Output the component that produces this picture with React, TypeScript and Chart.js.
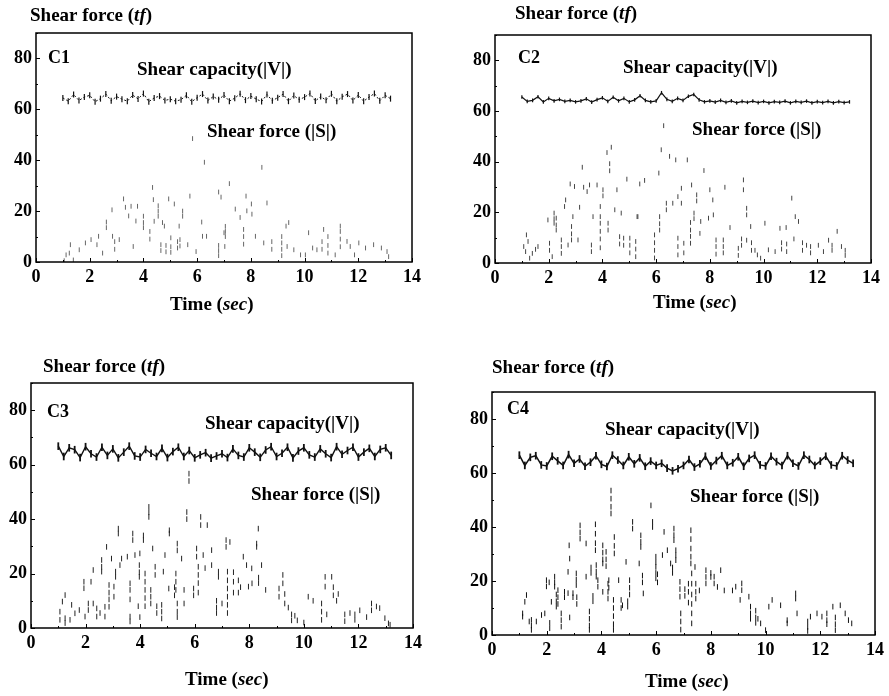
import React, { useEffect, useRef } from "react";
import { Chart, registerables } from "chart.js";

Chart.register(...registerables);

// ---------- data ----------
const xTicks = [0, 2, 4, 6, 8, 10, 12, 14];
const yTicks = [0, 20, 40, 60, 80];
const panelNames = ["C1", "C2", "C3", "C4"];

const capTime = [
  1.0, 1.2, 1.4, 1.6, 1.8, 2.0, 2.2, 2.4, 2.6, 2.8,
  3.0, 3.2, 3.4, 3.6, 3.8, 4.0, 4.2, 4.4, 4.6, 4.8,
  5.0, 5.2, 5.4, 5.6, 5.8, 6.0, 6.2, 6.4, 6.6, 6.8,
  7.0, 7.2, 7.4, 7.6, 7.8, 8.0, 8.2, 8.4, 8.6, 8.8,
  9.0, 9.2, 9.4, 9.6, 9.8, 10.0, 10.2, 10.4, 10.6, 10.8,
  11.0, 11.2, 11.4, 11.6, 11.8, 12.0, 12.2, 12.4, 12.6, 12.8,
  13.0, 13.2,
];

const c1Capacity = [
  64.5, 63.2, 65.8, 63.5, 64.8, 65.5, 63.0, 64.2, 66.0, 63.4,
  65.0, 64.0, 63.2, 65.6, 64.1, 66.2, 63.0, 64.5, 65.2, 63.5,
  64.0, 63.2, 63.8, 65.5, 63.0, 64.6, 66.0, 63.5, 65.0, 63.8,
  65.6, 63.2, 64.4, 66.1, 63.6, 65.2, 64.0, 63.1, 65.8, 63.4,
  64.6, 66.0, 63.2, 65.4, 63.8, 64.8, 66.2, 63.3, 65.0, 63.6,
  66.1, 63.2, 64.9, 66.0, 63.5, 65.6, 63.2, 64.8, 66.2, 63.4,
  65.5, 64.2,
];
const c2Capacity = [
  65.5, 63.8, 64.2, 65.6, 63.6, 65.0, 64.0, 64.6, 63.8, 64.2,
  63.6, 64.0, 64.8, 63.5, 64.5, 65.2, 63.8, 65.4, 64.0, 65.0,
  63.6, 64.4, 66.0, 64.2, 63.6, 64.0, 67.2, 64.6, 63.8, 65.0,
  64.2, 65.8, 66.5, 64.4, 63.6, 64.0, 63.5, 64.2, 63.4, 64.0,
  63.2, 63.8, 63.4, 63.9, 63.3, 63.8, 63.2, 63.7, 63.4, 63.9,
  63.2, 63.8, 63.4, 63.9, 63.2, 63.7, 63.3, 63.8, 63.2, 63.7,
  63.3, 63.6,
];
const c3Capacity = [
  66.8, 63.0, 66.2, 65.5, 62.6, 66.6, 64.0, 62.8, 66.4, 63.4,
  65.8, 62.5, 64.6, 66.8, 63.2, 62.8, 65.6, 64.2, 63.0, 66.0,
  62.6, 64.8, 66.4, 63.0, 65.2, 62.5, 63.6, 64.4, 62.4, 63.2,
  64.0, 62.6, 65.8, 63.4, 62.8, 66.2, 64.6, 62.7, 65.4, 66.6,
  63.0, 64.2, 66.4, 62.5, 65.0, 66.2, 63.6, 62.8, 65.8, 64.0,
  62.6, 66.6, 63.8, 65.2, 66.4, 62.8, 64.6, 66.0, 63.0, 65.6,
  66.2, 63.4,
];
const c4Capacity = [
  66.6, 62.8, 65.8, 66.4, 63.0, 62.6, 66.2, 64.5, 62.8, 66.8,
  63.6, 65.2, 62.5, 64.0, 66.4, 63.2, 62.4, 66.6, 64.8, 62.8,
  66.0, 63.4, 65.6, 62.5, 64.4, 62.8, 63.6, 61.8, 60.8, 61.6,
  62.8, 65.0, 62.2, 63.4, 66.2, 62.6, 64.6, 66.4, 62.8, 63.8,
  66.0, 62.5, 65.4, 66.6, 63.0, 62.6, 66.2, 64.2, 62.8, 66.4,
  63.6, 62.6, 66.6, 65.0, 62.8, 64.4, 66.2, 63.0, 62.6, 66.4,
  64.8, 63.6,
];

// [time (sec), |S| (tf)]
const c1Shear = [
  [1.05, 0.5], [1.12, 2.8], [1.24, 3.5], [1.28, 6.8], [1.39, 0.8], [1.61, 4.8], [1.84, 7.5], [2.05, 8.8],
  [2.27, 6.8], [2.33, 10.1], [2.48, 3.5], [2.62, 15.7], [2.62, 13.5], [2.83, 20.5], [2.85, 10.1], [2.93, 8.0],
  [2.93, 5.0], [3.1, 8.8], [3.26, 24.8], [3.33, 21.5], [3.45, 18.1], [3.54, 21.9], [3.62, 6.1], [3.72, 16.1],
  [3.78, 21.9], [4.0, 18.0], [4.0, 15.5], [4.0, 13.5], [4.24, 12.0], [4.24, 9.0], [4.34, 29.3], [4.37, 24.5],
  [4.4, 16.0], [4.55, 22.1], [4.55, 20.0], [4.55, 18.0], [4.65, 6.8], [4.65, 4.5], [4.71, 15.5], [4.78, 14.1],
  [4.84, 6.5], [4.84, 4.0], [4.94, 24.8], [5.02, 9.5], [5.02, 6.0], [5.02, 3.8], [5.15, 22.8], [5.27, 8.0],
  [5.27, 5.5], [5.33, 14.1], [5.36, 8.8], [5.36, 6.3], [5.46, 20.0], [5.46, 18.0], [5.65, 6.8], [5.73, 25.9],
  [5.83, 48.5], [5.96, 4.1], [6.17, 15.7], [6.2, 10.1], [6.27, 39.2], [6.35, 10.1], [6.8, 27.5], [6.8, 6.5],
  [6.8, 4.5], [6.8, 2.5], [6.89, 25.5], [7.0, 11.5], [7.03, 6.1], [7.05, 14.0], [7.05, 12.0], [7.05, 10.0],
  [7.2, 30.8], [7.42, 20.8], [7.6, 17.5], [7.73, 12.8], [7.73, 10.0], [7.73, 7.0], [7.82, 25.9], [7.85, 20.1],
  [8.02, 22.8], [8.04, 18.8], [8.17, 10.1], [8.41, 37.2], [8.48, 7.5], [8.6, 23.2], [8.78, 8.0], [8.78, 5.0],
  [9.15, 10.0], [9.15, 7.5], [9.15, 5.0], [9.15, 2.5], [9.31, 14.1], [9.35, 6.1], [9.41, 15.5], [9.6, 4.8],
  [9.85, 2.8], [10.03, 2.8], [10.15, 11.5], [10.3, 5.5], [10.46, 4.8], [10.65, 8.0], [10.65, 5.0], [10.71, 12.8],
  [10.87, 10.0], [10.87, 6.5], [10.87, 3.5], [11.14, 2.8], [11.33, 14.1], [11.33, 12.0], [11.33, 9.0], [11.33, 6.0],
  [11.58, 8.1], [11.7, 6.1], [11.86, 2.8], [12.02, 7.5], [12.27, 5.5], [12.57, 6.8], [12.86, 5.5], [13.07, 4.1],
  [13.13, 2.1],
];

const c2Shear = [
  [1.07, 6.5], [1.14, 4.5], [1.17, 11.1], [1.23, 8.5], [1.29, 1.9], [1.39, 3.8], [1.51, 5.4], [1.6, 6.5],
  [1.97, 17.0], [2.03, 7.8], [2.03, 5.0], [2.13, 2.5], [2.2, 19.7], [2.2, 17.5], [2.2, 15.7], [2.28, 17.7],
  [2.28, 15.0], [2.28, 13.0], [2.47, 9.1], [2.47, 6.5], [2.47, 3.8], [2.59, 22.3], [2.63, 24.9], [2.72, 7.1],
  [2.8, 31.2], [2.85, 14.4], [2.85, 11.5], [2.85, 9.1], [2.9, 18.3], [2.96, 30.2], [3.09, 9.1], [3.15, 22.0],
  [3.25, 37.8], [3.3, 29.9], [3.43, 28.2], [3.52, 30.8], [3.59, 7.1], [3.59, 4.5], [3.65, 18.3], [3.8, 30.8],
  [3.92, 22.3], [3.92, 18.3], [3.92, 15.7], [3.92, 12.5], [3.92, 9.5], [3.92, 6.0], [4.02, 28.9], [4.02, 26.5],
  [4.17, 43.6], [4.21, 15.7], [4.21, 13.0], [4.27, 39.2], [4.27, 36.4], [4.33, 45.7], [4.46, 21.0], [4.54, 28.9],
  [4.64, 10.4], [4.64, 7.5], [4.7, 19.7], [4.79, 9.8], [4.79, 7.0], [4.91, 33.1], [5.02, 9.8], [5.02, 7.0],
  [5.02, 4.0], [5.24, 8.5], [5.24, 5.5], [5.24, 2.5], [5.29, 18.3], [5.32, 18.3], [5.39, 31.2], [5.57, 32.6],
  [5.94, 11.1], [5.94, 8.0], [5.94, 5.0], [5.94, 2.0], [6.1, 35.5], [6.13, 18.3], [6.13, 15.5], [6.13, 13.0],
  [6.19, 44.7], [6.28, 54.2], [6.38, 23.6], [6.38, 21.0], [6.5, 42.1], [6.62, 23.6], [6.73, 40.7], [6.81, 26.2],
  [6.81, 9.8], [6.81, 6.5], [6.81, 3.2], [6.94, 29.5], [6.94, 23.6], [7.03, 7.8], [7.03, 4.0], [7.16, 40.7],
  [7.28, 16.0], [7.28, 13.0], [7.28, 10.5], [7.28, 7.8], [7.32, 30.8], [7.41, 19.7], [7.41, 17.5], [7.51, 26.9],
  [7.51, 24.5], [7.63, 11.7], [7.66, 16.4], [7.78, 36.5], [7.95, 17.7], [8.0, 28.9], [8.11, 24.9], [8.13, 19.0],
  [8.23, 9.1], [8.23, 6.5], [8.23, 3.5], [8.5, 9.1], [8.5, 6.5], [8.5, 4.0], [8.56, 29.9], [8.75, 14.0],
  [9.06, 5.8], [9.06, 3.0], [9.18, 9.5], [9.18, 7.0], [9.25, 32.8], [9.25, 28.9], [9.37, 21.6], [9.37, 19.0],
  [9.37, 9.0], [9.52, 14.4], [9.55, 8.0], [9.55, 5.0], [9.68, 5.0], [9.77, 3.2], [9.89, 1.9], [10.05, 15.7],
  [10.18, 5.2], [10.43, 4.5], [10.61, 13.7], [10.67, 8.0], [10.67, 5.5], [10.84, 14.0], [10.86, 7.5], [10.86, 4.5],
  [11.05, 25.6], [11.13, 9.5], [11.18, 18.3], [11.3, 16.4], [11.45, 8.0], [11.45, 5.0], [11.6, 7.0], [11.75, 6.5],
  [11.75, 4.0], [12.04, 7.0], [12.23, 4.5], [12.42, 9.0], [12.55, 7.0], [12.55, 5.0], [12.74, 12.5], [12.9, 6.5],
  [13.04, 5.0], [13.04, 3.0],
];

const c3Shear = [
  [1.06, 6.0], [1.06, 3.0], [1.15, 9.7], [1.25, 12.1], [1.25, 3.6], [1.25, 1.8], [1.43, 3.0], [1.49, 8.5],
  [1.61, 5.4], [1.77, 6.6], [1.94, 17.0], [1.94, 14.6], [1.98, 4.2], [2.1, 9.0], [2.1, 6.6], [2.2, 17.0],
  [2.28, 21.3], [2.28, 9.0], [2.41, 7.2], [2.41, 4.2], [2.53, 5.5], [2.59, 25.0], [2.59, 22.5], [2.59, 20.7],
  [2.71, 7.8], [2.71, 4.2], [2.77, 29.8], [2.86, 15.8], [2.86, 13.0], [2.86, 10.5], [2.86, 7.8], [2.95, 25.5],
  [3.04, 15.2], [3.04, 11.5], [3.1, 20.7], [3.1, 18.8], [3.2, 36.5], [3.2, 34.7], [3.26, 23.1], [3.32, 25.5],
  [3.53, 26.2], [3.63, 16.4], [3.63, 14.0], [3.63, 10.5], [3.63, 4.2], [3.63, 2.4], [3.73, 34.7], [3.73, 32.3],
  [3.81, 26.8], [3.93, 8.0], [3.97, 23.1], [3.97, 20.5], [3.97, 18.8], [3.99, 27.4], [3.99, 4.0], [4.12, 34.0],
  [4.12, 32.3], [4.18, 20.0], [4.18, 17.0], [4.18, 14.0], [4.18, 11.0], [4.18, 8.0], [4.32, 44.5], [4.32, 42.5],
  [4.32, 40.8], [4.39, 14.0], [4.39, 11.5], [4.39, 9.0], [4.46, 29.2], [4.55, 22.5], [4.55, 19.5], [4.61, 8.0],
  [4.61, 5.5], [4.79, 8.5], [4.79, 6.0], [4.79, 3.5], [4.85, 20.7], [4.91, 26.8], [5.05, 14.5], [5.07, 35.9],
  [5.07, 34.7], [5.26, 15.0], [5.26, 12.0], [5.31, 20.0], [5.31, 17.0], [5.31, 14.0], [5.36, 31.0], [5.36, 28.5],
  [5.36, 9.0], [5.36, 6.0], [5.36, 4.0], [5.52, 25.5], [5.61, 14.0], [5.61, 9.0], [5.71, 42.6], [5.71, 40.0],
  [5.79, 56.7], [5.79, 54.0], [5.96, 14.5], [5.96, 12.0], [6.07, 29.2], [6.07, 26.2], [6.13, 22.5], [6.13, 19.5],
  [6.13, 16.5], [6.13, 13.0], [6.22, 40.8], [6.22, 37.8], [6.31, 26.8], [6.38, 22.0], [6.46, 37.8], [6.62, 28.6],
  [6.62, 23.1], [6.8, 10.0], [6.8, 7.5], [6.8, 5.5], [6.87, 20.7], [6.87, 18.8], [7.0, 9.0], [7.15, 32.3],
  [7.15, 29.8], [7.2, 20.7], [7.2, 17.5], [7.2, 14.5], [7.2, 11.5], [7.2, 8.5], [7.2, 5.5], [7.29, 31.6],
  [7.42, 20.5], [7.42, 17.0], [7.42, 13.0], [7.6, 17.5], [7.6, 13.0], [7.68, 15.0], [7.78, 26.2], [7.9, 23.1],
  [7.97, 15.2], [8.09, 21.9], [8.1, 16.4], [8.27, 31.0], [8.27, 29.8], [8.33, 36.5], [8.34, 18.5], [8.34, 16.5],
  [8.45, 23.1], [8.6, 14.0], [9.09, 14.5], [9.09, 11.5], [9.23, 19.5], [9.23, 16.4], [9.3, 12.5], [9.3, 9.0],
  [9.43, 7.5], [9.55, 5.0], [9.55, 2.8], [9.67, 4.5], [9.76, 2.8], [10.0, 2.0], [10.16, 11.5], [10.34, 10.0],
  [10.65, 9.0], [10.65, 6.0], [10.65, 3.0], [10.78, 18.8], [10.78, 15.2], [10.84, 5.0], [11.02, 18.8], [11.08, 15.0],
  [11.08, 12.0], [11.2, 10.0], [11.26, 12.5], [11.5, 5.0], [11.5, 2.5], [11.69, 5.5], [11.87, 5.0], [11.87, 3.0],
  [12.05, 6.5], [12.3, 4.0], [12.48, 9.0], [12.48, 6.5], [12.66, 7.9], [12.78, 7.3], [12.97, 3.6], [13.1, 1.7],
  [13.16, 1.2],
];

const c4Shear = [
  [1.12, 8.0], [1.12, 6.8], [1.2, 12.3], [1.26, 14.8], [1.36, 5.0], [1.44, 5.6], [1.44, 3.5], [1.44, 1.9],
  [1.62, 5.0], [1.81, 7.4], [1.93, 8.0], [1.99, 20.3], [1.99, 18.0], [2.09, 19.5], [2.11, 4.5], [2.11, 2.5],
  [2.17, 12.3], [2.29, 21.6], [2.29, 19.5], [2.29, 17.9], [2.35, 15.0], [2.35, 12.5], [2.35, 10.5], [2.41, 16.6],
  [2.41, 14.0], [2.41, 11.5], [2.53, 8.0], [2.53, 5.5], [2.53, 3.1], [2.65, 16.0], [2.65, 14.0], [2.78, 23.4],
  [2.78, 15.5], [2.82, 33.2], [2.84, 28.3], [2.84, 6.5], [2.96, 15.5], [2.96, 14.0], [3.08, 22.8], [3.08, 20.5],
  [3.08, 18.5], [3.1, 14.0], [3.1, 11.5], [3.22, 40.6], [3.22, 38.0], [3.22, 35.7], [3.44, 33.9], [3.44, 21.6],
  [3.56, 8.7], [3.56, 6.0], [3.56, 3.5], [3.56, 1.9], [3.62, 25.0], [3.62, 23.0], [3.69, 14.5], [3.69, 12.5],
  [3.78, 41.0], [3.78, 37.5], [3.78, 34.0], [3.78, 31.4], [3.81, 25.9], [3.81, 23.5], [3.81, 21.6], [3.87, 20.3],
  [3.87, 17.9], [4.05, 33.2], [4.05, 30.5], [4.05, 28.0], [4.05, 26.5], [4.05, 16.0], [4.17, 30.8], [4.17, 28.0],
  [4.17, 25.5], [4.24, 19.0], [4.24, 16.0], [4.24, 13.5], [4.27, 20.3], [4.27, 17.5], [4.35, 53.5], [4.35, 50.5],
  [4.35, 47.5], [4.35, 45.0], [4.44, 13.0], [4.44, 10.0], [4.44, 7.0], [4.44, 4.0], [4.44, 1.9], [4.47, 36.3],
  [4.47, 33.0], [4.47, 30.2], [4.63, 20.3], [4.72, 13.0], [4.72, 10.0], [4.77, 11.0], [4.9, 27.1], [4.96, 12.5],
  [4.96, 10.5], [5.03, 20.3], [5.03, 17.5], [5.03, 15.0], [5.14, 41.9], [5.14, 39.4], [5.38, 26.5], [5.44, 36.9],
  [5.44, 34.5], [5.44, 32.6], [5.5, 22.0], [5.5, 19.5], [5.53, 15.4], [5.81, 48.0], [5.87, 41.9], [5.87, 40.0],
  [5.99, 29.0], [5.99, 27.0], [5.99, 25.2], [5.99, 23.0], [5.99, 21.0], [6.05, 22.5], [6.05, 19.5], [6.23, 29.6],
  [6.29, 38.2], [6.41, 31.4], [6.53, 26.5], [6.6, 25.0], [6.6, 23.0], [6.65, 39.4], [6.65, 37.0], [6.65, 35.1],
  [6.72, 31.4], [6.72, 29.5], [6.72, 27.7], [6.87, 19.7], [6.87, 17.0], [6.87, 14.2], [6.9, 8.0], [6.9, 5.0],
  [6.9, 2.0], [7.05, 17.0], [7.05, 14.5], [7.18, 19.0], [7.18, 16.0], [7.18, 12.0], [7.27, 38.8], [7.27, 35.5],
  [7.27, 32.0], [7.27, 29.0], [7.27, 26.5], [7.3, 22.8], [7.3, 19.0], [7.3, 15.0], [7.3, 11.5], [7.3, 8.0],
  [7.3, 4.3], [7.42, 25.2], [7.45, 19.0], [7.45, 16.0], [7.45, 13.5], [7.58, 16.5], [7.82, 24.0], [7.82, 21.5],
  [7.82, 19.1], [8.0, 23.0], [8.0, 21.5], [8.12, 21.6], [8.12, 19.1], [8.24, 17.8], [8.36, 24.0], [8.49, 16.5],
  [8.79, 16.5], [8.91, 17.9], [9.07, 13.0], [9.13, 19.1], [9.13, 16.6], [9.39, 14.2], [9.45, 10.5], [9.45, 8.0],
  [9.45, 6.0], [9.64, 9.0], [9.64, 6.5], [9.64, 4.5], [9.72, 6.0], [9.82, 4.3], [10.0, 1.8], [10.12, 10.5],
  [10.24, 13.0], [10.55, 11.0], [10.79, 5.5], [10.79, 4.3], [11.1, 15.4], [11.1, 13.5], [11.15, 8.0], [11.54, 5.0],
  [11.54, 3.0], [11.54, 1.5], [11.64, 6.8], [11.88, 8.0], [12.06, 6.8], [12.24, 8.0], [12.24, 5.5], [12.24, 4.0],
  [12.46, 10.5], [12.55, 6.5], [12.55, 4.0], [12.55, 1.8], [12.73, 11.0], [12.91, 8.0], [13.03, 5.5], [13.15, 4.3],
];

// ---------- layout / style (not data) ----------
type PanelLayout = {
  left: number; top: number; width: number; height: number;
  area: { l: number; t: number; r: number; b: number };
  title: [number, number]; name: [number, number]; cap: [number, number];
  force: [number, number]; time: [number, number];
  capDash: number[]; capWidth: number; capRadius: number; capPointWidth: number;
  shearColor: string; shearRadius: number;
};

const panels: { cap: number[]; shear: number[][]; layout: PanelLayout }[] = [
  {
    cap: c1Capacity, shear: c1Shear,
    layout: {
      left: 0, top: 0, width: 444, height: 330,
      area: { l: 36, t: 33, r: 412, b: 262 },
      title: [30, 21], name: [48, 63], cap: [137, 75], force: [207, 137], time: [170, 310],
      capDash: [2, 2], capWidth: 1, capRadius: 3, capPointWidth: 1.2, shearColor: "#666", shearRadius: 2.4,
    },
  },
  {
    cap: c2Capacity, shear: c2Shear,
    layout: {
      left: 445, top: 0, width: 444, height: 330,
      area: { l: 50, t: 35, r: 426, b: 263 },
      title: [70, 19], name: [73, 63], cap: [178, 73], force: [247, 135], time: [208, 308],
      capDash: [], capWidth: 1.2, capRadius: 1.8, capPointWidth: 1.2, shearColor: "#444", shearRadius: 2.4,
    },
  },
  {
    cap: c3Capacity, shear: c3Shear,
    layout: {
      left: 0, top: 340, width: 444, height: 356,
      area: { l: 31, t: 43, r: 413, b: 288 },
      title: [43, 32], name: [47, 77], cap: [205, 89], force: [251, 160], time: [185, 345],
      capDash: [], capWidth: 1.4, capRadius: 3.8, capPointWidth: 1.8, shearColor: "#222", shearRadius: 2.8,
    },
  },
  {
    cap: c4Capacity, shear: c4Shear,
    layout: {
      left: 445, top: 340, width: 444, height: 356,
      area: { l: 47, t: 52, r: 432, b: 295 },
      title: [47, 33], name: [62, 74], cap: [160, 95], force: [245, 162], time: [200, 347],
      capDash: [], capWidth: 1.5, capRadius: 3.8, capPointWidth: 1.8, shearColor: "#111", shearRadius: 2.8,
    },
  },
];

const FONT = "'Liberation Serif', 'Times New Roman', serif";

function drawRich(ctx: CanvasRenderingContext2D, x: number, y: number, parts: [string, boolean][], size: number) {
  let cx = x;
  for (const [text, italic] of parts) {
    ctx.font = `${italic ? "italic " : ""}bold ${size}px ${FONT}`;
    ctx.fillText(text, cx, y);
    cx += ctx.measureText(text).width;
  }
}

function makeDecor(layout: PanelLayout, name: string) {
  return {
    id: "panelDecor" + name,
    afterDraw(chart: any) {
      const { ctx, chartArea: a } = chart;
      const xs = chart.scales.x;
      const ys = chart.scales.y;
      ctx.save();
      ctx.strokeStyle = "#000";
      ctx.lineWidth = 1.5;
      ctx.strokeRect(a.left, a.top, a.right - a.left, a.bottom - a.top);
      ctx.lineWidth = 1;
      ctx.beginPath();
      for (let v = 0; v <= 14; v += 1) {
        const px = Math.round(xs.getPixelForValue(v)) + 0.5;
        const len = v % 2 === 0 ? 4 : 2;
        ctx.moveTo(px, a.bottom); ctx.lineTo(px, a.bottom - len);
      }
      for (let v = 0; v <= 90; v += 10) {
        const py = Math.round(ys.getPixelForValue(v)) + 0.5;
        const len = v % 20 === 0 ? 4 : 2;
        ctx.moveTo(a.left, py); ctx.lineTo(a.left + len, py);
      }
      ctx.stroke();

      ctx.fillStyle = "#000";
      ctx.textAlign = "left";
      ctx.textBaseline = "alphabetic";
      drawRich(ctx, layout.title[0], layout.title[1], [["Shear force (", false], ["tf", true], [")", false]], 19);
      drawRich(ctx, layout.name[0], layout.name[1], [[name, false]], 18);
      drawRich(ctx, layout.cap[0], layout.cap[1], [["Shear capacity(|V|)", false]], 19);
      drawRich(ctx, layout.force[0], layout.force[1], [["Shear force (|S|)", false]], 19);
      drawRich(ctx, layout.time[0], layout.time[1], [["Time (", false], ["sec", true], [")", false]], 19);
      ctx.restore();
    },
  };
}

function Panel({ cap, shear, layout, name }: { cap: number[]; shear: number[][]; layout: PanelLayout; name: string }) {
  const ref = useRef<HTMLCanvasElement | null>(null);
  useEffect(() => {
    if (!ref.current) return;
    const { area, width, height } = layout;
    const tickFont = { family: FONT, size: 18, weight: "bold" as const };
    const chart = new Chart(ref.current, {
      type: "scatter",
      data: {
        datasets: [
          {
            label: "Shear force (|S|)",
            data: shear.map(([t, v]) => ({ x: t, y: v })),
            showLine: false,
            pointStyle: "line",
            rotation: 90,
            pointRadius: layout.shearRadius,
            borderWidth: 1,
            borderColor: layout.shearColor,
            backgroundColor: layout.shearColor,
          },
          {
            label: "Shear capacity(|V|)",
            data: capTime.map((t, i) => ({ x: t, y: cap[i] })),
            showLine: true,
            borderColor: "#111",
            borderWidth: layout.capWidth,
            borderDash: layout.capDash,
            tension: 0,
            pointStyle: "line",
            rotation: 90,
            pointRadius: layout.capRadius,
            pointBorderWidth: layout.capPointWidth,
            pointBorderColor: "#111",
          },
        ],
      },
      options: {
        responsive: false,
        animation: false,
        events: [],
        layout: { padding: { top: area.t, right: width - area.r, left: 0, bottom: 0 } },
        plugins: { legend: { display: false }, tooltip: { enabled: false }, title: { display: false } },
        scales: {
          x: {
            type: "linear",
            min: 0,
            max: 14,
            grid: { display: false, drawTicks: false },
            border: { display: false },
            ticks: { font: tickFont, color: "#000", padding: 5, maxRotation: 0 },
            afterBuildTicks: (s: any) => { s.ticks = xTicks.map((v) => ({ value: v })); },
            afterFit: (s: any) => { s.height = height - area.b; },
          },
          y: {
            type: "linear",
            min: 0,
            max: 90,
            grid: { display: false, drawTicks: false },
            border: { display: false },
            ticks: { font: tickFont, color: "#000", padding: 4 },
            afterBuildTicks: (s: any) => { s.ticks = yTicks.map((v) => ({ value: v })); },
            afterFit: (s: any) => { s.width = area.l; },
          },
        },
      },
      plugins: [makeDecor(layout, name)],
    } as any);
    return () => chart.destroy();
  }, []);
  return (
    <canvas
      ref={ref}
      width={layout.width}
      height={layout.height}
      style={{ position: "absolute", left: layout.left, top: layout.top, width: layout.width, height: layout.height }}
    />
  );
}

export default function App() {
  return (
    <div style={{ position: "fixed", left: 0, top: 0, width: 889, height: 696, background: "#fff", overflow: "hidden" }}>
      {panels.map((p, i) => (
        <Panel key={i} cap={p.cap} shear={p.shear} layout={p.layout} name={panelNames[i]} />
      ))}
    </div>
  );
}
